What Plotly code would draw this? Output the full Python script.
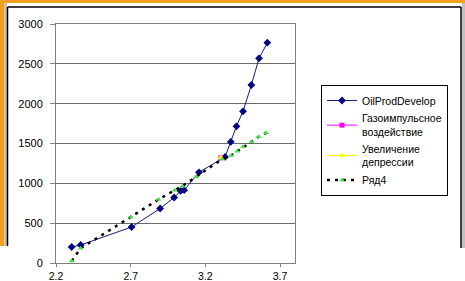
import plotly.graph_objects as go

# --- data ---
oil_x = [2.305, 2.365, 2.706, 2.897, 2.991, 3.034, 3.058, 3.157, 3.332, 3.370, 3.408, 3.452, 3.508, 3.559, 3.615]
oil_y = [201, 226, 452, 684, 822, 905, 914, 1138, 1332, 1521, 1716, 1904, 2234, 2569, 2765]

gas_x = [3.303]
gas_y = [1320]

dep_x = [3.303]
dep_y = [1320]

r4_x = [2.305, 2.365, 2.701, 2.886, 2.995, 3.046, 3.139, 3.313, 3.372, 3.413, 3.452, 3.508, 3.557, 3.607]
r4_y = [25, 185, 578, 797, 914, 964, 1084, 1304, 1350, 1404, 1458, 1521, 1584, 1634]

names = ["OilProdDevelop", "Газоимпульсное<br>воздействие", "Увеличение<br>депрессии", "Ряд4"]
x_ticks = [2.2, 2.7, 3.2, 3.7]
y_ticks = [0, 500, 1000, 1500, 2000, 2500, 3000]

W, H = 465, 281
L, R, T, B = 56, 170, 24, 18
PW, PH = W - L - R, H - T - B

def px(p):
    return (p - L) / PW

def py(p):
    return (H - B - p) / PH

fig = go.Figure()
fig.add_trace(go.Scatter(x=oil_x, y=oil_y, name=names[0], mode="lines+markers",
                         line=dict(color="#1a1a80", width=1),
                         marker=dict(symbol="diamond", size=6, color="#000080")))
fig.add_trace(go.Scatter(x=gas_x, y=gas_y, name=names[1], mode="lines+markers",
                         line=dict(color="#ff00ff", width=1),
                         marker=dict(symbol="square", size=5, color="#ff00ff")))
fig.add_trace(go.Scatter(x=dep_x, y=dep_y, name=names[2], mode="lines+markers",
                         line=dict(color="#ffff00", width=1),
                         marker=dict(symbol="triangle-up", size=6, color="#ffff00")))
fig.add_trace(go.Scatter(x=r4_x, y=r4_y, name=names[3], mode="lines+markers",
                         line=dict(color="#000000", width=2.5, dash="3px,5px"),
                         marker=dict(symbol="triangle-up", size=5, color="#44dd44")))

shapes = []
orange = "#f4a020"
# outer frame decorations (slide border around the chart)
shapes.append(dict(type="rect", xref="paper", yref="paper", x0=px(0), x1=px(465), y0=py(0), y1=py(3),
                   fillcolor=orange, line=dict(width=0), layer="above"))
shapes.append(dict(type="rect", xref="paper", yref="paper", x0=px(0), x1=px(4.5), y0=py(0), y1=py(246),
                   fillcolor=orange, line=dict(width=0), layer="above"))
shapes.append(dict(type="rect", xref="paper", yref="paper", x0=px(4.5), x1=px(7), y0=py(3), y1=py(246),
                   fillcolor="#c0c0c0", line=dict(width=0), layer="above"))
shapes.append(dict(type="rect", xref="paper", yref="paper", x0=px(462), x1=px(465), y0=py(3), y1=py(248),
                   fillcolor="#c0c0c0", line=dict(width=0), layer="above"))
shapes.append(dict(type="line", xref="paper", yref="paper", x0=px(7.5), x1=px(461), y0=py(7), y1=py(7),
                   line=dict(color="#000", width=1.5), layer="above"))
shapes.append(dict(type="line", xref="paper", yref="paper", x0=px(7.5), x1=px(7.5), y0=py(7), y1=py(246),
                   line=dict(color="#000", width=1.5), layer="above"))
shapes.append(dict(type="line", xref="paper", yref="paper", x0=px(461), x1=px(461), y0=py(7), y1=py(248),
                   line=dict(color="#000", width=1.5), layer="above"))

fig.update_layout(
    width=W, height=H,
    margin=dict(l=L, r=R, t=T, b=B, pad=0),
    paper_bgcolor="white", plot_bgcolor="white",
    font=dict(family="Liberation Sans, Arial, sans-serif", size=10, color="#000"),
    showlegend=True,
    legend=dict(x=px(321), y=py(85), xanchor="left", yanchor="top",
                bordercolor="#000", borderwidth=1, bgcolor="white",
                font=dict(size=10.5), itemwidth=30, tracegroupgap=0),
    xaxis=dict(range=[2.2, 3.8], tickvals=x_ticks, ticktext=[str(v) for v in x_ticks],
               showgrid=False, zeroline=False, showline=True, linecolor="#808080", linewidth=1,
               mirror=True, ticks="outside", ticklen=3, tickcolor="#808080",
               tickfont=dict(size=10.5), ticklabelstandoff=0, automargin=False),
    yaxis=dict(range=[0, 3000], tickvals=y_ticks, showgrid=True, gridcolor="#6a6a6a", gridwidth=1,
               zeroline=False, showline=True, linecolor="#808080", linewidth=1, mirror=True,
               ticks="outside", ticklen=5, tickcolor="#808080", tickfont=dict(size=11),
               ticklabelstandoff=5, automargin=False),
    shapes=shapes,
)

fig.write_html("out.html", config={"displayModeBar": False},
               post_script="document.body.style.margin='0';document.body.style.overflow='hidden';")
